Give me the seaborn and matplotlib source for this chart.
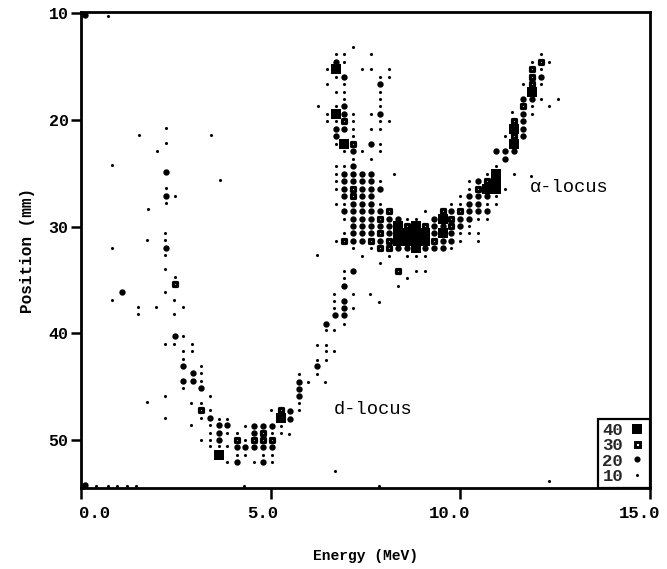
import matplotlib
matplotlib.use("Agg")
import matplotlib.pyplot as plt
import matplotlib.transforms as mtransforms
from matplotlib.lines import Line2D
import seaborn as sns
import pandas as pd

# ---------------- data (energy MeV, position mm) per count level ----------------
e10 = [2.24, 1.53, 3.42, 2.24, 2.01, 0.82, 3.66, 2.23, 2.47, 2.23, 1.76, 2.22, 1.75, 2.22, 0.81, 2.22, 2.22, 2.47,
       2.22, 0.82, 2.45, 1.50, 1.98, 2.69, 1.50, 2.45, 2.69,
       2.21, 2.46, 2.93, 2.69, 2.93, 2.70, 3.17, 3.16, 3.17, 2.70, 2.21, 3.40, 2.91, 3.16, 3.40, 2.21, 3.17, 3.64,
       3.86, 2.91, 3.40, 4.32, 5.26, 3.40, 3.86, 4.11, 5.04, 5.26, 5.48, 3.17, 3.40, 4.33, 3.40, 3.64, 3.86, 4.11,
       4.33, 4.81, 5.04, 3.86, 4.56, 5.04, 1.74,
       6.21, 6.23, 6.21, 5.75, 5.98, 6.43, 5.74, 5.74, 5.02, 6.45, 6.45, 6.45, 6.68, 6.45, 6.68, 6.93, 6.68, 7.16,
       6.68, 6.68, 7.16, 7.63, 7.85, 6.21,
       0.70, 0.40, 0.70, 0.95, 1.20, 1.45, 4.30, 7.85, 6.70, 12.34,
       7.18, 6.71, 6.945, 7.65, 12.115, 6.945, 11.88, 12.35, 6.475, 7.415, 7.65, 8.12, 12.115, 6.71, 7.885, 8.12,
       6.475, 6.945, 12.115, 11.645, 6.71, 6.945, 7.885, 6.945, 7.885, 12.115, 12.585, 6.24, 6.71, 7.885, 11.88,
       12.35, 6.475, 7.18, 7.65, 11.88, 11.35, 6.475, 6.71, 7.18, 7.885, 8.12, 7.18, 7.65, 7.885, 7.18, 11.175,
       6.71, 7.885, 6.945, 7.415, 7.885, 7.18, 7.65, 6.71, 6.945, 10.94, 6.71, 8.24, 10.705, 11.41, 11.87, 6.71,
       7.885, 10.235, 6.71, 10.235, 11.175, 10.0, 10.94, 6.71, 6.945, 7.885, 9.765, 10.0, 10.705, 10.94, 9.06,
       6.945, 8.59, 8.825, 10.47, 10.705, 10.235, 6.945, 10.0, 10.235, 10.47, 6.71, 10.0, 10.47, 7.18, 7.65,
       9.765, 7.415, 8.12, 8.59, 8.825, 9.06, 7.885, 6.945, 8.825, 9.06, 6.945, 8.59, 8.355]
p10 = [20.75, 21.4, 21.4, 22.2, 22.9, 24.2, 25.6, 26.4, 27.1, 27.8, 28.4, 30.6, 31.3, 31.3, 32.0, 32.7, 34.0, 34.7,
       36.1, 36.9, 36.9, 37.5, 37.5, 37.5, 38.2, 38.2, 40.3,
       41.0, 41.0, 41.0, 41.7, 41.7, 42.4, 43.1, 43.7, 44.5, 45.1, 45.9, 45.9, 46.5, 46.5, 47.2, 47.9, 47.9, 48.0,
       48.0, 48.6, 48.6, 48.7, 48.7, 49.3, 49.3, 49.3, 49.3, 49.3, 49.4, 50.0, 50.0, 50.0, 50.6, 50.6, 50.6, 51.4,
       51.4, 51.4, 51.4, 52.1, 52.1, 52.1, 46.4,
       41.1, 42.5, 43.8, 43.8, 44.6, 44.6, 46.5, 47.2, 47.2, 42.5, 41.1, 41.7, 41.7, 39.7, 39.7, 39.1, 37.6, 37.6,
       37.0, 36.3, 36.3, 36.3, 37.1, 32.7,
       10.3, 54.35, 54.35, 54.35, 54.35, 54.35, 54.35, 54.35, 52.9, 53.8,
       13.15, 13.85, 13.85, 13.85, 13.85, 14.55, 14.55, 14.55, 15.25, 15.25, 15.25, 15.25, 15.25, 15.95, 15.95, 15.95,
       16.65, 16.65, 16.65, 16.65, 17.35, 17.35, 17.35, 18.05, 18.05, 18.05, 18.05, 18.75, 18.75, 18.75, 18.75,
       18.75, 19.45, 19.45, 19.45, 19.45, 19.3, 20.15, 20.15, 20.15, 20.15, 20.15, 20.85, 20.85, 20.85, 21.55, 21.55,
       22.25, 22.25, 22.95, 22.95, 22.95, 23.65, 23.65, 24.35, 24.35, 24.35, 25.05, 25.05, 25.05, 25.05, 25.3, 25.75,
       25.75, 25.75, 26.45, 26.45, 26.45, 27.15, 27.15, 27.85, 27.85, 27.85, 27.85, 27.85, 27.85, 27.85, 28.55,
       29.25, 29.25, 29.25, 29.25, 29.25, 29.95, 30.65, 30.65, 30.65, 30.65, 31.35, 31.35, 31.35, 32.05, 32.05,
       32.05, 32.75, 32.75, 32.75, 32.75, 32.75, 33.45, 34.15, 34.15, 34.15, 34.85, 34.85, 35.55]

e20 = [2.24, 2.24, 2.24, 1.07, 2.47, 2.70, 2.94, 2.70, 2.94, 3.17, 3.40, 3.64, 3.86, 4.56, 4.81, 5.04, 3.64, 4.56,
       3.64, 4.11, 4.33, 4.56, 4.81, 5.04, 4.11, 4.81, 0.10, 0.10,
       6.22, 5.75, 5.75, 5.74, 5.51, 5.51, 6.45, 6.70, 6.93, 6.93, 6.93, 6.93, 7.17,
       6.71, 6.945, 12.115, 7.885, 11.645, 11.88, 6.945, 6.945, 7.885, 11.645, 11.645, 6.71, 6.945, 11.645, 6.71,
       11.645, 7.65, 7.18, 10.94, 11.175, 11.41, 11.175, 7.18,
       6.945, 7.18, 7.415, 7.65, 6.945, 7.18, 7.415, 7.65, 10.47, 6.945, 7.415, 7.65, 7.885,
       6.945, 7.415, 7.65, 10.235, 10.47, 10.705, 7.18, 7.415, 7.65, 10.235, 10.47,
       6.945, 7.18, 7.415, 7.65, 7.885, 9.765, 10.235, 10.47, 10.705,
       7.18, 7.415, 7.65, 8.12, 8.355, 9.295, 10.0, 10.235,
       7.18, 7.415, 7.65, 7.885, 8.12, 9.295, 9.53, 10.0,
       7.18, 7.415, 7.65, 8.12, 9.295, 9.765, 7.18, 7.415, 7.885, 9.53, 9.765,
       8.355, 8.59, 9.06, 9.295, 9.53]
p20 = [24.9, 27.1, 32.0, 36.1, 40.3, 43.1, 43.7, 44.5, 44.5, 45.1, 47.9, 48.6, 48.6, 48.7, 48.7, 48.7, 49.3, 49.3,
       50.0, 50.7, 50.7, 50.7, 50.7, 50.7, 52.1, 52.1, 10.15, 54.25,
       43.1, 44.6, 45.2, 45.9, 47.3, 48.0, 39.1, 38.3, 38.3, 37.6, 37.0, 35.6, 34.2,
       14.55, 15.95, 15.95, 16.65, 18.05, 18.05, 18.75, 19.45, 19.45, 19.45, 20.15, 20.85, 20.85, 20.85, 21.55,
       21.55, 22.25, 22.95, 22.95, 22.95, 22.95, 23.65, 24.35,
       25.05, 25.05, 25.05, 25.05, 25.75, 25.75, 25.75, 25.75, 25.75, 26.45, 26.45, 26.45, 26.45,
       27.15, 27.15, 27.15, 27.15, 27.15, 27.15, 27.85, 27.85, 27.85, 27.85, 27.85,
       28.55, 28.55, 28.55, 28.55, 28.55, 28.55, 28.55, 28.55, 28.55,
       29.25, 29.25, 29.25, 29.25, 29.25, 29.25, 29.25, 29.25,
       29.95, 29.95, 29.95, 29.95, 29.95, 29.95, 29.95, 29.95,
       30.65, 30.65, 30.65, 30.65, 30.65, 30.65, 31.35, 31.35, 31.35, 31.35, 31.35,
       32.05, 32.05, 32.05, 32.05, 32.05]

e30 = [2.47, 3.16, 4.81, 4.11, 4.56, 4.81, 5.04, 5.26,
       6.945, 7.18, 12.115, 11.88, 11.88, 11.88, 11.645, 11.41, 11.41, 10.47, 10.705, 8.355,
       7.18, 7.18, 8.12, 9.53, 10.0, 7.885, 9.765, 8.59, 9.06, 9.765, 7.885, 6.945, 7.65, 8.12, 9.295,
       7.885, 8.12]
p30 = [35.4, 47.2, 49.3, 50.0, 50.0, 50.0, 50.0, 47.2,
       20.15, 22.25, 14.55, 15.25, 15.95, 16.65, 18.75, 20.15, 21.55, 26.45, 25.75, 34.15,
       26.45, 27.15, 28.55, 28.55, 28.55, 29.25, 29.25, 29.95, 29.95, 29.95, 30.65, 31.35, 31.35, 31.35, 31.35,
       32.05, 32.05]

e40 = [3.64, 5.26, 6.71, 6.71, 6.945, 11.88, 11.41, 11.41, 10.94, 10.94, 10.705, 10.94, 9.53,
       8.355, 8.825, 8.355, 8.59, 8.825, 9.06, 9.53, 8.355, 8.59, 8.825, 9.06, 8.825]
p40 = [51.4, 47.9, 15.25, 19.45, 22.25, 17.35, 20.85, 22.25, 25.05, 25.75, 26.45, 26.45, 29.25,
       29.95, 29.95, 30.65, 30.65, 30.65, 30.65, 30.65, 31.35, 31.35, 31.35, 31.35, 32.05]

levels = ["40", "30", "20", "10"]
x_ticks = [0, 5, 10, 15]
x_tick_labels = ["0.0", "5.0", "10.0", "15.0"]
y_ticks = [10, 20, 30, 40, 50]
y_tick_labels = ["10", "20", "30", "40", "50"]

# ---------------- style ----------------
sns.set_theme(style="ticks")
mono = ["Liberation Mono", "DejaVu Sans Mono"]
plt.rcParams["font.family"] = mono
plt.rcParams["axes.linewidth"] = 2.0

fig = plt.figure(figsize=(6.67, 5.69), dpi=100)
ax = fig.add_axes([81 / 667, 1 - 488 / 569, 569 / 667, 476 / 569])

df10 = pd.DataFrame({"E": e10, "P": p10})
df20 = pd.DataFrame({"E": e20, "P": p20})
df30 = pd.DataFrame({"E": e30, "P": p30})
df40 = pd.DataFrame({"E": e40, "P": p40})

sns.scatterplot(data=df10, x="E", y="P", ax=ax, color="black", marker="o", s=5, linewidth=0, legend=False)
sns.scatterplot(data=df20, x="E", y="P", ax=ax, color="black", marker="o", s=21, linewidth=0, legend=False)
sns.scatterplot(data=df30, x="E", y="P", ax=ax, color="white", edgecolor="black", marker="s", s=12,
                linewidth=2.3, legend=False)
sns.scatterplot(data=df40, x="E", y="P", ax=ax, color="black", marker="s", s=42, linewidth=0, legend=False)
for coll in ax.collections:
    coll.set_clip_on(False)

ax.set_xlim(0, 15)
ax.set_ylim(54.5, 9.9)
ax.set_xticks(x_ticks)
ax.set_xticklabels(x_tick_labels, fontweight="bold")
ax.set_yticks(y_ticks)
ax.set_yticklabels(y_tick_labels, fontweight="bold")
ax.tick_params(axis="x", direction="out", length=8, width=1.8, labelsize=12.5, pad=5, colors="black")
ax.tick_params(axis="y", direction="out", length=7, width=1.8, labelsize=12, pad=2, colors="black")
for sp in ax.spines.values():
    sp.set_visible(True)
    sp.set_color("black")
    sp.set_linewidth(2.0)

# printed tick labels sit slightly off-centre from their ticks
shifts = [14, -8, -11, -10]
for lab, dx in zip(ax.get_xticklabels(), shifts):
    lab.set_transform(lab.get_transform() + mtransforms.ScaledTranslation(dx / 100, 0, fig.dpi_scale_trans))

ax.set_xlabel("Energy (MeV)", fontsize=10.5, fontweight="bold", labelpad=20, color="black")
ax.set_ylabel("Position (mm)", fontsize=11.5, fontweight="bold", labelpad=10, color="black")

ax.text(11.84, 26.3, "\u03b1-locus", fontsize=13.5, ha="left", va="center", family=mono, color="black")
ax.text(6.66, 47.1, "d-locus", fontsize=13.5, ha="left", va="center", family=mono, color="black")

handles = [
    Line2D([], [], linestyle="none", marker="s", markersize=6.5, markerfacecolor="black", markeredgewidth=0),
    Line2D([], [], linestyle="none", marker="s", markersize=3.6, markerfacecolor="white",
           markeredgecolor="black", markeredgewidth=2.1),
    Line2D([], [], linestyle="none", marker="o", markersize=4.4, markerfacecolor="black", markeredgewidth=0),
    Line2D([], [], linestyle="none", marker="o", markersize=2.2, markerfacecolor="black", markeredgewidth=0),
]
leg = ax.legend(handles, levels, loc="lower right", markerfirst=False, frameon=True, fancybox=False,
                edgecolor="black", framealpha=1, borderaxespad=0, handlelength=1.0, handletextpad=0.3,
                labelspacing=0.0, borderpad=0.25, prop={"size": 12.5, "weight": "bold"})
leg.get_frame().set_linewidth(1.6)

fig.savefig("out.png", dpi=100, facecolor="white")
